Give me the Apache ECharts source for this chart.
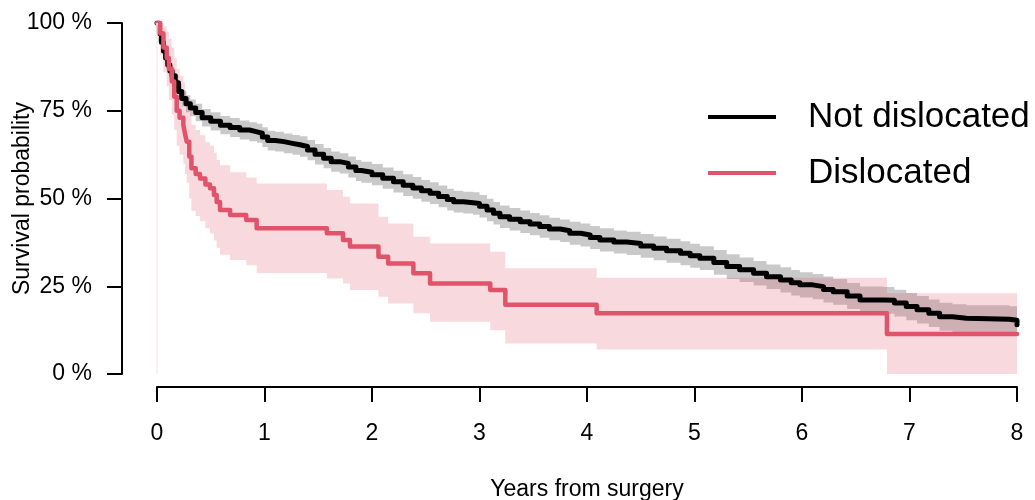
<!DOCTYPE html>
<html>
<head>
<meta charset="utf-8">
<script src="https://cdn.jsdelivr.net/npm/echarts@6/dist/echarts.min.js"></script>
<style>html,body{margin:0;padding:0;background:#fff;}#c{width:1035px;height:500px;}</style>
</head>
<body>
<div id="c"></div>
<script>
// ---- data ----
const xTicks = [0, 1, 2, 3, 4, 5, 6, 7, 8];
const yTicks = [0, 25, 50, 75, 100];
const seriesNames = ['Not dislocated', 'Dislocated'];

const blackTime = [0,0.02,0.04,0.06,0.08,0.10,0.12,0.14,0.17,0.2,0.23,0.27,0.31,0.36,0.42,0.5,0.59,0.68,0.77,0.86,0.93,0.98,1.03,1.1,1.18,1.26,1.33,1.4,1.47,1.55,1.62,1.7,1.78,1.85,1.9,2.0,2.1,2.2,2.29,2.38,2.46,2.54,2.62,2.7,2.76,2.85,2.94,3.0,3.07,3.13,3.19,3.28,3.38,3.47,3.56,3.65,3.75,3.84,3.94,4.03,4.12,4.25,4.37,4.5,4.62,4.74,4.87,4.96,5.05,5.18,5.3,5.42,5.55,5.67,5.8,5.9,5.98,6.1,6.2,6.29,6.42,6.54,6.76,6.86,6.97,7.07,7.18,7.28,7.4,7.53,7.93,8.0];
const blackSurv = [100,97,94.5,92,90,88,86.3,85,83,80.5,78.5,77,75.8,74.5,73,72,70.9,70.2,69.5,69,68.6,67.5,66.5,66.2,65.7,65.3,64.8,63.8,62.6,61.5,60.5,60,59,58,57.5,56.8,55.8,54.8,53.8,53,52.2,51.5,50.6,49.7,49.1,48.8,48.6,47.8,46.7,45.8,44.8,44.1,43.4,42.7,42,41.3,40.8,40.1,39.6,38.9,38.2,37.6,37.2,36.5,35.8,35.1,34.4,33.7,33,31.8,30.6,29.7,28.7,27.7,26.8,26,25.4,24.9,24.1,23.4,22.2,21.1,21,20.2,19.2,18.3,17.3,16.3,15.9,15.6,15.3,14];
const blackLower = [100,96.0,93.2,90.5,88.3,86.2,84.4,83.0,80.9,78.3,76.2,74.6,73.4,72.0,70.5,69.4,68.3,67.5,66.8,66.3,65.9,64.7,63.7,63.4,62.9,62.5,61.9,60.9,59.7,58.6,57.6,57.1,56.0,55.0,54.5,53.8,52.8,51.7,50.7,49.9,49.1,48.4,47.5,46.6,46.0,45.7,45.4,44.6,43.5,42.6,41.6,40.9,40.2,39.5,38.8,38.1,37.6,36.8,36.3,35.6,34.9,34.3,33.9,33.1,32.4,31.7,31.0,30.3,29.6,28.3,27.1,26.2,25.2,24.2,23.2,22.4,21.8,21.3,20.4,19.7,18.5,17.3,17.2,16.4,15.3,14.4,13.4,12.3,11.9,11.6,11.3,10.0];
const blackUpper = [100,98.0,95.8,93.5,91.7,89.8,88.2,87.0,85.1,82.7,80.8,79.4,78.2,77.0,75.5,74.6,73.5,72.9,72.2,71.7,71.3,70.3,69.3,69.0,68.5,68.1,67.7,66.7,65.5,64.4,63.4,62.9,62.0,61.0,60.5,59.8,58.8,57.9,56.9,56.1,55.3,54.6,53.7,52.8,52.2,51.9,51.8,51.0,49.9,49.0,48.0,47.3,46.6,45.9,45.2,44.5,44.0,43.4,42.9,42.2,41.5,40.9,40.5,39.9,39.2,38.5,37.8,37.1,36.4,35.3,34.1,33.2,32.2,31.2,30.4,29.6,29.0,28.5,27.8,27.1,25.9,24.9,24.8,24.0,23.1,22.2,21.2,20.3,19.9,19.6,19.3,18.0];

const redTime  = [0,0.03,0.06,0.09,0.11,0.137,0.16,0.183,0.21,0.245,0.26,0.276,0.30,0.32,0.36,0.40,0.45,0.493,0.53,0.555,0.586,0.68,0.83,0.927,1.58,1.73,1.795,2.06,2.15,2.385,2.54,3.10,3.24,4.09,6.79,8.0];
const redSurv  = [100,97,93,90,87,83.3,79,75,73,71,68.5,66.2,62,58.6,57,55.7,54,52.9,51,49,46.7,45.3,43.9,41.5,40.1,38.2,36.3,33.4,31.5,28.7,25.8,23.9,19.7,17.3,11.4,11.4];
const redLower = [100,91,86,82,78,74,69.5,65,62.5,60,57,54.5,50,46.5,45,43.5,41.5,40,38,36,34,32.5,31,28.8,27.2,25.8,23.9,22.0,20.1,17.3,14.9,12.5,8.7,7.0,0,0];
const redUpper = [100,100,99,97.5,95.5,93,90,87,85,83,80.5,78.5,74.5,71,69.5,68,66,65,63,61,59.5,57.5,56,54.3,52.4,50.5,48.6,44.8,42.9,39.1,37.2,34.8,30.1,27.4,23.0,23.0];

// ---- build series data ----
const zip = (xs, ys) => xs.map((x, i) => [x, ys[i]]);
const bandRows = (xs, lo, hi) => xs.map((x, i) => [x, lo[i], hi[i]]);

const FONT = 'Liberation Sans';
const RED = '#DF536B';

// step-shaped confidence band drawn as one polygon through the axis scales
function bandSeries(name, rows, fill, z) {
  return {
    name: name, type: 'custom', z: z, silent: true,
    data: rows,
    encode: {x: 0, y: [1, 2]},
    renderItem: function (params, api) {
      if (params.dataIndex !== 0) return null;
      const up = [], lo = [];
      for (let i = 0; i < rows.length; i++) {
        const t0 = rows[i][0];
        const t1 = i + 1 < rows.length ? rows[i + 1][0] : rows[i][0];
        up.push(api.coord([t0, rows[i][2]]), api.coord([t1, rows[i][2]]));
        lo.push(api.coord([t0, rows[i][1]]), api.coord([t1, rows[i][1]]));
      }
      return {type: 'polygon', shape: {points: up.concat(lo.reverse())}, style: {fill: fill}, silent: true};
    }
  };
}

const chart = echarts.init(document.getElementById('c'), null, {renderer: 'canvas'});
chart.setOption({
  animation: false,
  backgroundColor: '#ffffff',
  textStyle: {fontFamily: FONT},
  grid: {left: 157, right: 18, top: 23, bottom: 126, containLabel: false, outerBoundsMode: 'none'},
  legend: {
    data: seriesNames,
    orient: 'vertical',
    left: 703,
    top: 92,
    icon: 'rect',
    itemWidth: 68,
    itemHeight: 4,
    itemGap: 16,
    textStyle: {fontFamily: FONT, fontSize: 35, color: '#000', lineHeight: 40, padding: [0, 0, 0, 27]}
  },
  xAxis: {
    type: 'value', min: xTicks[0], max: xTicks[xTicks.length - 1], interval: 1,
    offset: 13,
    axisLine: {show: true, onZero: false, lineStyle: {color: '#000', width: 2}},
    axisTick: {show: true, inside: false, length: 15, lineStyle: {color: '#000', width: 2}},
    axisLabel: {fontFamily: FONT, fontSize: 23, color: '#000', margin: 35},
    splitLine: {show: false},
    name: 'Years from surgery', nameLocation: 'middle', nameGap: 91, nameMoveOverlap: false,
    nameTextStyle: {fontFamily: FONT, fontSize: 23, color: '#000'}
  },
  yAxis: {
    type: 'value', min: yTicks[0], max: yTicks[yTicks.length - 1], interval: 25,
    offset: 35,
    axisLine: {show: true, onZero: false, lineStyle: {color: '#000', width: 2}},
    axisTick: {show: true, inside: false, length: 15, lineStyle: {color: '#000', width: 2}},
    axisLabel: {fontFamily: FONT, fontSize: 23, color: '#000', margin: 30, formatter: '{value} %'},
    splitLine: {show: false},
    name: 'Survival probability', nameLocation: 'middle', nameRotate: 90, nameGap: 88, nameMoveOverlap: false,
    nameTextStyle: {fontFamily: FONT, fontSize: 23, color: '#000'}
  },
  series: [
    bandSeries('bBand', bandRows(blackTime, blackLower, blackUpper), 'rgba(0,0,0,0.21)', 1),
    bandSeries('rBand', bandRows(redTime, redLower, redUpper), 'rgba(223,83,107,0.22)', 2),
    {name: 'zeroLine', type: 'line', data: [], silent: true, z: 2,
     markLine: {silent: true, symbol: 'none', label: {show: false},
       lineStyle: {color: '#f5ecee', width: 1.5, type: 'solid'}, data: [{xAxis: 0}]}},
    {name: seriesNames[0], type: 'line', step: 'end', symbol: 'none', color: '#000',
     lineStyle: {color: '#000', width: 5, cap: 'round', join: 'round'},
     data: zip(blackTime, blackSurv), z: 3},
    {name: seriesNames[1], type: 'line', step: 'end', symbol: 'none', color: RED,
     lineStyle: {color: RED, width: 4.5, cap: 'round', join: 'round'},
     data: zip(redTime, redSurv), z: 4}
  ]
});
</script>
</body>
</html>
